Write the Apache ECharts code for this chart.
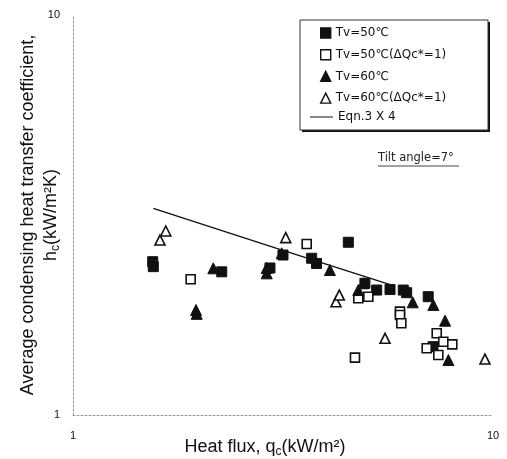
<!DOCTYPE html>
<html>
<head>
<meta charset="utf-8">
<script src="https://cdn.jsdelivr.net/npm/echarts@6/dist/echarts.min.js"></script>
<style>
  html, body { margin: 0; padding: 0; background: #fff; }
  #chart { width: 507px; height: 459px; }
</style>
</head>
<body>
<div id="chart"></div>
<script>
// Tv=50℃ (filled squares)
var tv50 = [
  [1.548, 2.417], [1.553, 2.349], [2.26, 2.28], [2.944, 2.331], [3.162, 2.512],
  [3.70, 2.465], [3.80, 2.393], [4.524, 2.703], [4.955, 2.134], [5.285, 2.053],
  [5.686, 2.06], [6.114, 2.053], [6.23, 2.022], [7.01, 1.976], [7.197, 1.482]
]
// Tv=50℃ (ΔQc*=1) (open squares)
var tv50dq = [
  [1.906, 2.184], [3.601, 2.676], [4.778, 1.958], [5.048, 1.976], [6.005, 1.813],
  [6.005, 1.778], [6.05, 1.696], [4.692, 1.391], [7.345, 1.601], [6.953, 1.468],
  [7.615, 1.525], [8.0, 1.502], [7.41, 1.413]
]
// Tv=60℃ (filled triangles)
var tv60 = [
  [1.963, 1.83], [1.97, 1.79], [2.158, 2.327], [2.892, 2.26], [2.892, 2.331],
  [3.14, 2.537], [4.09, 2.304], [4.778, 2.053], [4.911, 2.134], [6.44, 1.913],
  [7.21, 1.884], [7.69, 1.721], [7.83, 1.372]
]
// Tv=60℃ (ΔQc*=1) (open triangles)
var tv60dq = [
  [1.611, 2.738], [1.663, 2.884], [3.21, 2.776], [4.228, 1.919], [4.306, 1.995],
  [5.533, 1.555], [9.57, 1.38]
]
// Eqn.3 X 4
var eqnLine = [[1.553, 3.287], [3.055, 2.61], [5.739, 2.113]]

var names = ['Tv=50℃', 'Tv=50℃(ΔQc*=1)', 'Tv=60℃', 'Tv=60℃(ΔQc*=1)', 'Eqn.3 X 4']

var chart = echarts.init(document.getElementById('chart'))

var axisLineStyle = { color: '#999', width: 1, type: [2, 2] }
var legendFont = 'DejaVu Sans, sans-serif'

var option = {
  backgroundColor: '#fff',
  animation: false,
  textStyle: { fontFamily: 'Liberation Sans, Arial, sans-serif', color: '#111' },
  grid: { left: 73, right: 14, top: 15, bottom: 44, outerBoundsMode: 'none', containLabel: false },
  legend: [
    {
      orient: 'vertical',
      left: 320,
      top: 26,
      z: 10,
      data: [
        { name: names[0], icon: 'rect' },
        { name: names[1], icon: 'rect' },
        { name: names[2], icon: 'triangle' },
        { name: names[3], icon: 'triangle' }
      ],
      itemWidth: 10,
      itemHeight: 10,
      itemGap: 7.7,
      itemStyle: { borderWidth: 1.4 },
      padding: 0,
      textStyle: { fontSize: 12, color: '#111', lineHeight: 14, fontFamily: legendFont }
    },
    {
      orient: 'vertical',
      left: 310,
      top: 110,
      z: 10,
      data: [{ name: names[4], icon: 'rect' }],
      itemWidth: 23,
      itemHeight: 1,
      itemGap: 8,
      padding: 0,
      textStyle: { fontSize: 12, color: '#111', lineHeight: 14, fontFamily: legendFont }
    }
  ],
  xAxis: {
    type: 'log',
    logBase: 10,
    min: 1,
    max: 10,
    name: '{n|Heat flux, q}{s|c}{n|(kW/m²)}',
    nameLocation: 'middle',
    nameGap: 22,
    nameMoveOverlap: false,
    nameTextStyle: {
      padding: [0, 36, 0, 0],
      rich: {
        n: { fontSize: 18, color: '#111' },
        s: { fontSize: 12, color: '#111', padding: [9, 0, 0, 0] }
      }
    },
    axisLine: { show: true, lineStyle: axisLineStyle },
    axisTick: { show: false },
    splitLine: { show: false },
    axisLabel: { fontSize: 11, color: '#111', margin: 15 }
  },
  yAxis: {
    type: 'log',
    logBase: 10,
    min: 1,
    max: 10,
    name: '{n|Average condensing heat transfer coefficient,}\n{n|h}{s|c}{n|(kW/m²K)}',
    nameLocation: 'middle',
    nameRotate: 90,
    nameGap: 10,
    nameMoveOverlap: false,
    nameTextStyle: {
      lineHeight: 23,
      rich: {
        n: { fontSize: 18, color: '#111', lineHeight: 23 },
        s: { fontSize: 12, color: '#111', lineHeight: 23, padding: [9, 0, 0, 0] }
      }
    },
    axisLine: { show: true, lineStyle: axisLineStyle },
    axisTick: { show: false },
    splitLine: { show: false },
    axisLabel: { fontSize: 11, color: '#111', margin: 13 }
  },
  graphic: [
    {
      type: 'rect',
      z: 2,
      shape: { x: 302, y: 22, width: 188, height: 110 },
      style: { fill: '#111' }
    },
    {
      type: 'rect',
      z: 3,
      shape: { x: 300, y: 20, width: 188, height: 110 },
      style: { fill: '#fff', stroke: '#333', lineWidth: 1 }
    },
    {
      type: 'text',
      z: 3,
      left: 378,
      top: 152,
      style: { text: 'Tilt angle=7°', fontSize: 11.5, fill: '#222', fontFamily: legendFont }
    },
    {
      type: 'line',
      z: 3,
      shape: { x1: 378, y1: 166, x2: 459, y2: 166 },
      style: { stroke: '#444', lineWidth: 1 }
    }
  ],
  series: [
    {
      name: names[0], type: 'scatter', data: tv50,
      symbol: 'rect', symbolSize: 10,
      itemStyle: { color: '#111', borderColor: '#111', borderWidth: 1, opacity: 1 }
    },
    {
      name: names[1], type: 'scatter', data: tv50dq,
      symbol: 'rect', symbolSize: 9,
      itemStyle: { color: '#fff', borderColor: '#111', borderWidth: 1.6, opacity: 1 }
    },
    {
      name: names[2], type: 'scatter', data: tv60,
      symbol: 'triangle', symbolSize: 11,
      itemStyle: { color: '#111', borderColor: '#111', borderWidth: 1, opacity: 1 }
    },
    {
      name: names[3], type: 'scatter', data: tv60dq,
      symbol: 'triangle', symbolSize: 10,
      itemStyle: { color: '#fff', borderColor: '#111', borderWidth: 1.6, opacity: 1 }
    },
    {
      name: names[4], type: 'line', data: eqnLine,
      showSymbol: false, symbol: 'none',
      lineStyle: { color: '#111', width: 1.3 },
      itemStyle: { color: '#111' },
      z: 1
    }
  ]
}

chart.setOption(option)
</script>
</body>
</html>
